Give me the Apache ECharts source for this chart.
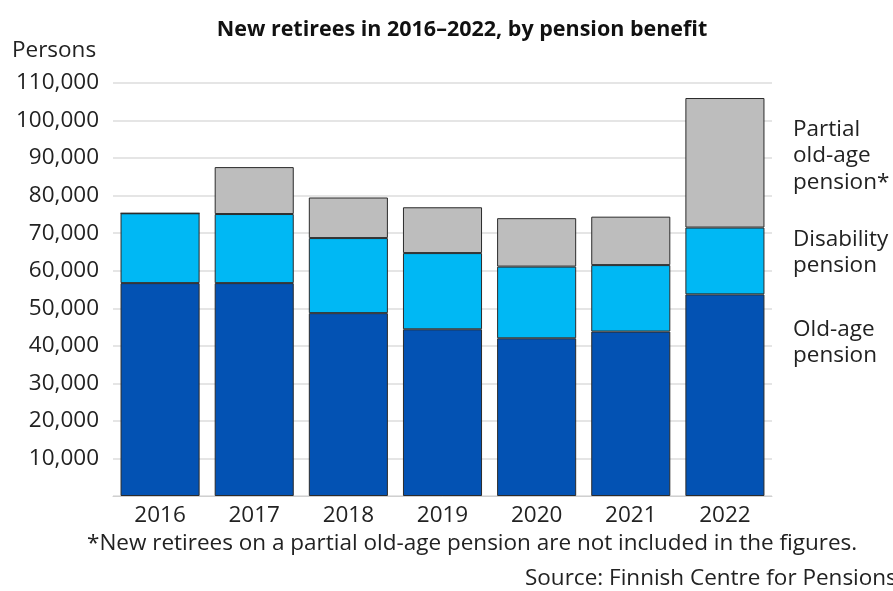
<!DOCTYPE html>
<html><head><meta charset="utf-8">
<script src="https://cdn.jsdelivr.net/npm/echarts@6/dist/echarts.min.js"></script>
<style>html,body{margin:0;padding:0;background:#fff}#c{width:893px;height:591px}</style>
</head><body><div id="c"></div>
<script>
const years = ['2016','2017','2018','2019','2020','2021','2022'];
const oldAge = [56700, 56700, 48700, 44400, 42000, 43800, 53700];
const disability = [18600, 18400, 20000, 20300, 19100, 17700, 17800];
const partial = [0, 12500, 10800, 12200, 12900, 12900, 34500];
const yTicks = {min: 0, max: 110000, interval: 10000};

const FONT = '"Open Sans", "Liberation Sans", Arial, sans-serif';
const FS = 22.5;
const chart = echarts.init(document.getElementById('c'));
const seg = (name, data, color) => ({
  name, type: 'bar', stack: 's', data, barCategoryGap: '16%',
  itemStyle: {color, borderColor: '#2b2b2b', borderWidth: 1},
  emphasis: {disabled: true}
});
chart.setOption({
  animation: false,
  title: {text: 'New retirees in 2016–2022, by pension benefit', left: 457, top: 14, textAlign: 'center',
    textStyle: {fontFamily: FONT, fontSize: 21.5, fontWeight: 'bold', color: '#111'}},
  grid: {left: 113, right: 121, top: 83, bottom: 95},
  xAxis: {type: 'category', data: years,
    axisLine: {lineStyle: {color: '#d0d0d0', width: 1}}, axisTick: {show: false},
    axisLabel: {fontFamily: FONT, fontSize: FS, color: '#222', margin: 8}},
  yAxis: {type: 'value', min: yTicks.min, max: yTicks.max, interval: yTicks.interval,
    axisLine: {show: false}, axisTick: {show: false},
    splitLine: {lineStyle: {color: '#dcdcdc', width: 1.5}},
    axisLabel: {fontFamily: FONT, fontSize: FS, color: '#222', margin: 14,
      formatter: v => v === 0 ? '' : v.toLocaleString('en-US')}},
  series: [
    seg('Old-age pension', oldAge, '#0352b3'),
    seg('Disability pension', disability, '#00b8f4'),
    seg('Partial old-age pension*', partial, '#bdbdbd')
  ],
  graphic: [
    {type: 'text', left: 12, top: 39, style: {text: 'Persons', font: FS + 'px ' + FONT, fill: '#222'}},
    {type: 'text', left: 793, top: 116, style: {text: 'Partial\nold-age\npension*', font: FS + 'px ' + FONT, fill: '#222', lineHeight: 26.5}},
    {type: 'text', left: 793, top: 226, style: {text: 'Disability\npension', font: FS + 'px ' + FONT, fill: '#222', lineHeight: 26.5}},
    {type: 'text', left: 793, top: 316, style: {text: 'Old-age\npension', font: FS + 'px ' + FONT, fill: '#222', lineHeight: 26.5}},
    {type: 'text', left: 87, top: 532, style: {text: '*New retirees on a partial old-age pension are not included in the figures.', font: FS + 'px ' + FONT, fill: '#222'}},
    {type: 'text', left: 525, top: 567, style: {text: 'Source: Finnish Centre for Pensions', font: FS + 'px ' + FONT, fill: '#222'}}
  ]
});
</script></body></html>
